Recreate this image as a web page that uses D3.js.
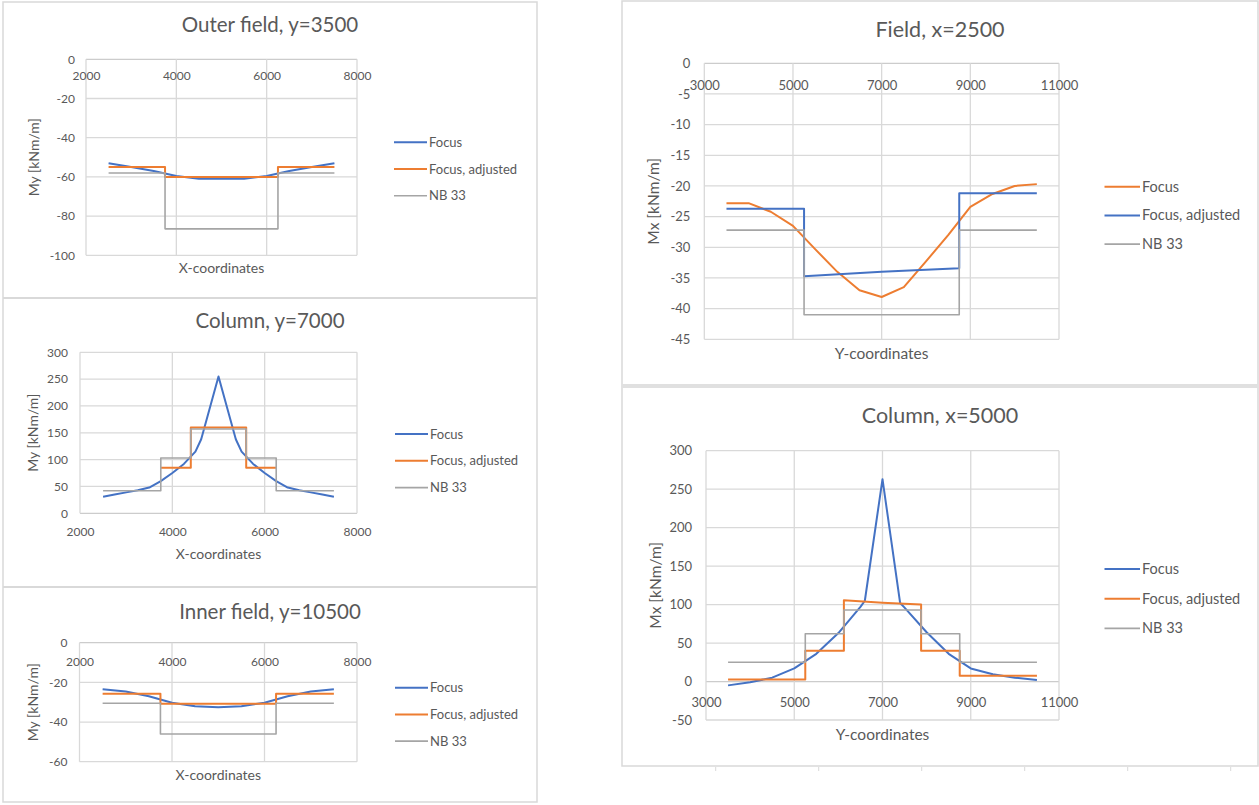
<!DOCTYPE html>
<html>
<head>
<meta charset="utf-8">
<script src="https://cdn.jsdelivr.net/npm/d3@7"></script>
<style>
  body { margin: 0; background: #fff; }
  svg { display: block; font-family: Lato, 'Open Sans', sans-serif; }
</style>
</head>
<body>
<svg id="chart" width="1259" height="805"></svg>
<script>
// ---- data ----
// Outer field, y=3500
const outerX = [2500, 3000, 3500, 4000, 4500, 5000, 5500, 6000, 6500, 7000, 7500];
const outerFocus = [-53, -55, -57, -59.5, -61, -61, -61, -59.5, -57, -55, -53];
const outerAdjX = [2500, 3750, 3750, 6250, 6250, 7500];
const outerAdj = [-55, -55, -60, -60, -55, -55];
const outerNbX = [2500, 3750, 3750, 6250, 6250, 7500];
const outerNb = [-58, -58, -86.5, -86.5, -58, -58];
const outerYTicks = [0, -20, -40, -60, -80, -100];

// Column, y=7000
const colYX = [2500, 2750, 3000, 3250, 3500, 3750, 4000, 4250, 4500, 4625, 5000, 5375, 5500, 5750, 6000, 6250, 6500, 6750, 7000, 7250, 7500];
const colYFocus = [31, 35, 39, 43, 48, 60, 75, 92, 115, 138, 255, 138, 115, 92, 75, 60, 48, 43, 39, 35, 31];
const colYAdjX = [3750, 4400, 4400, 5600, 5600, 6250];
const colYAdj = [85, 85, 160, 160, 85, 85];
const colYNbX = [2500, 3750, 3750, 4400, 4400, 5600, 5600, 6250, 6250, 7500];
const colYNb = [42, 42, 103, 103, 157, 157, 103, 103, 42, 42];
const colYYTicks = [0, 50, 100, 150, 200, 250, 300];

// Inner field, y=10500
const innerX = [2500, 3000, 3500, 4000, 4500, 5000, 5500, 6000, 6500, 7000, 7500];
const innerFocus = [-23.5, -24.6, -27, -30.3, -32, -32.5, -32, -30.3, -27, -24.6, -23.5];
const innerAdjX = [2500, 3750, 3750, 6250, 6250, 7500];
const innerAdj = [-25.8, -25.8, -30.8, -30.8, -25.8, -25.8];
const innerNbX = [2500, 3750, 3750, 6250, 6250, 7500];
const innerNb = [-30.5, -30.5, -46, -46, -30.5, -30.5];
const innerYTicks = [0, -20, -40, -60];

const leftXTicks = [2000, 4000, 6000, 8000];

// Field, x=2500
const fieldX = [3500, 4000, 4500, 5000, 5500, 6000, 6500, 7000, 7500, 8000, 8500, 9000, 9500, 10000, 10500];
const fieldFocus = [-22.8, -22.8, -24.2, -26.5, -30.3, -34, -37, -38.1, -36.5, -32.3, -28, -23.4, -21.3, -20, -19.7];
const fieldAdjX = [3500, 5250, 5250, 7000, 8750, 8750, 10500];
const fieldAdj = [-23.7, -23.7, -34.7, -34, -33.4, -21.2, -21.2];
const fieldNbX = [3500, 5250, 5250, 8750, 8750, 10500];
const fieldNb = [-27.2, -27.2, -41, -41, -27.2, -27.2];
const fieldYTicks = [0, -5, -10, -15, -20, -25, -30, -35, -40, -45];

// Column, x=5000
const colXX = [3500, 4000, 4500, 5000, 5500, 6000, 6500, 6600, 7000, 7400, 7500, 8000, 8500, 9000, 9500, 10000, 10500];
const colXFocus = [-5, -1, 5, 17, 36, 63, 97, 105, 263, 102, 96, 64, 36, 17, 9.5, 5, 2];
const colXAdjX = [3500, 5250, 5250, 6125, 6125, 7000, 7875, 7875, 8750, 8750, 10500];
const colXAdj = [2.5, 2.5, 40, 40, 105.5, 102.5, 100, 40, 40, 7.5, 7.5];
const colXNbX = [3500, 5250, 5250, 6125, 6125, 7875, 7875, 8750, 8750, 10500];
const colXNb = [25, 25, 62, 62, 93, 93, 62, 62, 25, 25];
const colXYTicks = [-50, 0, 50, 100, 150, 200, 250, 300];

const rightXTicks = [3000, 5000, 7000, 9000, 11000];

const seriesNames = [`Focus`, `Focus, adjusted`, `NB 33`];

// ---- look ----
const BLUE = `#4472c4`;
const ORANGE = `#ed7d31`;
const GRAY = `#a5a5a5`;
const GRID = `#d9d9d9`;
const TEXT = `#595959`;

const svg = d3.select(`#chart`);

// frames around the spreadsheet charts
svg.append(`rect`)
  .attr(`x`, 3).attr(`y`, 2).attr(`width`, 534).attr(`height`, 800)
  .attr(`fill`, `none`).attr(`stroke`, GRID).attr(`stroke-width`, 1.5);
[298, 587].forEach(y => {
  svg.append(`line`)
    .attr(`x1`, 3).attr(`x2`, 537).attr(`y1`, y).attr(`y2`, y)
    .attr(`stroke`, GRID).attr(`stroke-width`, 2);
});
svg.append(`rect`)
  .attr(`x`, 622).attr(`y`, 1).attr(`width`, 636).attr(`height`, 765)
  .attr(`fill`, `none`).attr(`stroke`, GRID).attr(`stroke-width`, 1.5);
svg.append(`line`)
  .attr(`x1`, 622).attr(`x2`, 1258).attr(`y1`, 386).attr(`y2`, 386)
  .attr(`stroke`, `#e0e0e0`).attr(`stroke-width`, 4);
// stray sheet ticks under the bottom-right chart
d3.range(6).forEach(i => {
  const x = 715.7 + i * 103;
  svg.append(`line`)
    .attr(`x1`, x).attr(`x2`, x).attr(`y1`, 767).attr(`y2`, 771)
    .attr(`stroke`, GRID).attr(`stroke-width`, 1);
});

class Panel {
  constructor(cfg) {
    this.cfg = cfg;
    this.g = svg.append(`g`);
    this.x = d3.scaleLinear().domain(cfg.xDomain).range([cfg.plot.l, cfg.plot.r]);
    this.y = d3.scaleLinear().domain(cfg.yDomain).range([cfg.plot.b, cfg.plot.t]);
  }

  render() {
    const c = this.cfg;
    const f = c.font;

    // gridlines
    this.g.append(`g`).selectAll(`line`)
      .data(c.yTicks)
      .enter().append(`line`)
        .attr(`x1`, c.plot.l).attr(`x2`, c.plot.r)
        .attr(`y1`, d => this.y(d)).attr(`y2`, d => this.y(d))
        .attr(`stroke`, d => d === 0 ? `#cccccc` : GRID)
        .attr(`stroke-width`, 1.3);
    this.g.append(`g`).selectAll(`line`)
      .data(c.xTicks)
      .enter().append(`line`)
        .attr(`x1`, d => this.x(d)).attr(`x2`, d => this.x(d))
        .attr(`y1`, c.plot.t).attr(`y2`, c.plot.b)
        .attr(`stroke`, GRID)
        .attr(`stroke-width`, 1.3);

    // axes labels
    const yAxis = this.g.append(`g`)
      .attr(`transform`, `translate(${c.plot.l},0)`)
      .call(d3.axisLeft(this.y).tickValues(c.yTicks).tickSize(0).tickPadding(c.yPad).tickFormat(d => `${d}`));
    const xAxis = this.g.append(`g`)
      .attr(`transform`, `translate(0,${this.y(0)})`)
      .call(d3.axisBottom(this.x).tickValues(c.xTicks).tickSize(0).tickFormat(d => `${d}`));
    [yAxis, xAxis].forEach(a => {
      a.select(`.domain`).remove();
      a.selectAll(`text`)
        .attr(`fill`, TEXT)
        .style(`font-size`, `${f.tick}px`)
        .style(`font-family`, `Lato, sans-serif`);
    });
    xAxis.selectAll(`text`).attr(`y`, c.xLabelOff).attr(`dy`, `0.35em`);

    // series
    const line = d3.line().x(d => this.x(d[0])).y(d => this.y(d[1]));
    c.series.forEach(s => {
      this.g.append(`path`)
        .datum(d3.zip(s.x, s.v))
        .attr(`d`, line)
        .attr(`fill`, `none`)
        .attr(`stroke`, s.color)
        .attr(`stroke-width`, s.color === GRAY ? 1.6 : 2)
        .attr(`stroke-linejoin`, `round`);
    });

    // title + axis titles
    this.g.append(`text`)
      .attr(`x`, c.titlePos[0]).attr(`y`, c.titlePos[1])
      .attr(`text-anchor`, `middle`).attr(`dy`, `0.35em`)
      .attr(`fill`, TEXT).style(`font-size`, `${f.title}px`)
      .text(c.title);
    this.g.append(`text`)
      .attr(`x`, (c.plot.l + c.plot.r) / 2).attr(`y`, c.xTitleY)
      .attr(`text-anchor`, `middle`).attr(`dy`, `0.35em`)
      .attr(`fill`, TEXT).style(`font-size`, `${f.axis}px`)
      .text(c.xTitle);
    this.g.append(`text`)
      .attr(`transform`, `translate(${c.yTitleX},${(c.plot.t + c.plot.b) / 2}) rotate(-90)`)
      .attr(`text-anchor`, `middle`).attr(`dy`, `0.35em`)
      .attr(`fill`, TEXT).style(`font-size`, `${f.axis}px`)
      .text(c.yTitle);

    // legend
    const leg = this.g.append(`g`).selectAll(`g`)
      .data(c.series)
      .enter().append(`g`)
        .attr(`transform`, (d, i) => `translate(${c.legend[0]},${c.legend[1] + i * c.legend[2]})`);
    leg.append(`line`)
      .attr(`x1`, 0).attr(`x2`, c.legend[3])
      .attr(`stroke`, d => d.color)
      .attr(`stroke-width`, d => d.color === GRAY ? 1.6 : 2);
    leg.append(`text`)
      .attr(`x`, c.legend[3] + 2).attr(`dy`, `0.35em`)
      .attr(`fill`, TEXT).style(`font-size`, `${f.legend}px`)
      .text((d, i) => seriesNames[i]);
  }
}

const leftFont = {title: 20.5, tick: 12, axis: 14, legend: 13};
const rightFont = {title: 21.5, tick: 13, axis: 15.5, legend: 14.5};

const panels = [
  {
    title: `Outer field, y=3500`, titlePos: [270, 25], font: leftFont,
    plot: {l: 86, r: 357, t: 59.3, b: 255.3},
    xDomain: [2000, 8000], yDomain: [-100, 0], xTicks: leftXTicks, yTicks: outerYTicks,
    yPad: 11, xLabelOff: 17, xTitle: `X-coordinates`, xTitleY: 268, yTitle: `My [kNm/m]`, yTitleX: 34.5,
    legend: [394, 142.3, 26.7, 33],
    series: [
      {x: outerX, v: outerFocus, color: BLUE},
      {x: outerAdjX, v: outerAdj, color: ORANGE},
      {x: outerNbX, v: outerNb, color: GRAY},
    ],
  },
  {
    title: `Column, y=7000`, titlePos: [270, 321], font: leftFont,
    plot: {l: 80, r: 357, t: 352.3, b: 513.3},
    xDomain: [2000, 8000], yDomain: [0, 300], xTicks: leftXTicks, yTicks: colYYTicks,
    yPad: 12, xLabelOff: 18.4, xTitle: `X-coordinates`, xTitleY: 554, yTitle: `My [kNm/m]`, yTitleX: 33,
    legend: [395, 434, 26.8, 33],
    series: [
      {x: colYX, v: colYFocus, color: BLUE},
      {x: colYAdjX, v: colYAdj, color: ORANGE},
      {x: colYNbX, v: colYNb, color: GRAY},
    ],
  },
  {
    title: `Inner field, y=10500`, titlePos: [270, 611.7], font: leftFont,
    plot: {l: 79.5, r: 357, t: 642.7, b: 761.7},
    xDomain: [2000, 8000], yDomain: [-60, 0], xTicks: leftXTicks, yTicks: innerYTicks,
    yPad: 12, xLabelOff: 19, xTitle: `X-coordinates`, xTitleY: 775, yTitle: `My [kNm/m]`, yTitleX: 33,
    legend: [395, 687.7, 26.7, 33],
    series: [
      {x: innerX, v: innerFocus, color: BLUE},
      {x: innerAdjX, v: innerAdj, color: ORANGE},
      {x: innerNbX, v: innerNb, color: GRAY},
    ],
  },
  {
    title: `Field, x=2500`, titlePos: [940, 29.3], font: rightFont,
    plot: {l: 704.3, r: 1059, t: 63.3, b: 339.3},
    xDomain: [3000, 11000], yDomain: [-45, 0], xTicks: rightXTicks, yTicks: fieldYTicks,
    yPad: 14, xLabelOff: 21.7, xTitle: `Y-coordinates`, xTitleY: 354, yTitle: `Mx [kNm/m]`, yTitleX: 653.5,
    legend: [1104.5, 186.7, 28.7, 35.5],
    series: [
      {x: fieldX, v: fieldFocus, color: ORANGE},
      {x: fieldAdjX, v: fieldAdj, color: BLUE},
      {x: fieldNbX, v: fieldNb, color: GRAY},
    ],
  },
  {
    title: `Column, x=5000`, titlePos: [940, 415], font: rightFont,
    plot: {l: 706, r: 1059, t: 450.7, b: 720},
    xDomain: [3000, 11000], yDomain: [-50, 300], xTicks: rightXTicks, yTicks: colXYTicks,
    yPad: 14, xLabelOff: 21, xTitle: `Y-coordinates`, xTitleY: 735, yTitle: `Mx [kNm/m]`, yTitleX: 655.6,
    legend: [1104.5, 569, 29.7, 35.5],
    series: [
      {x: colXX, v: colXFocus, color: BLUE},
      {x: colXAdjX, v: colXAdj, color: ORANGE},
      {x: colXNbX, v: colXNb, color: GRAY},
    ],
  },
];

panels.forEach(cfg => new Panel(cfg).render());
</script>
</body>
</html>
